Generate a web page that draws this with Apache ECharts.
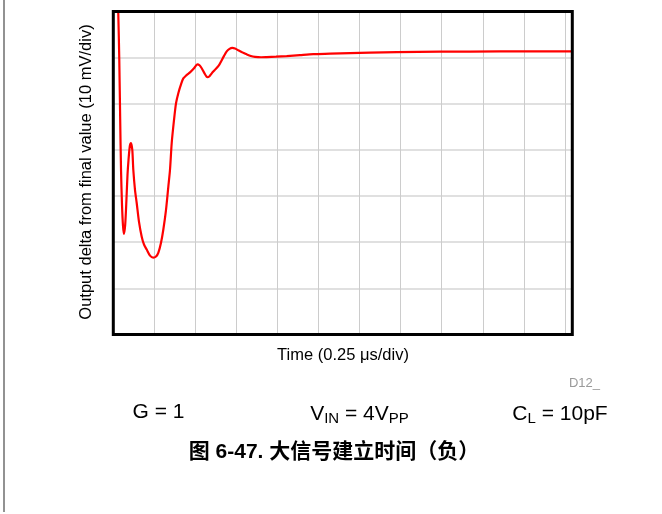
<!DOCTYPE html>
<html>
<head>
<meta charset="utf-8">
<script src="https://cdn.jsdelivr.net/npm/echarts@6/dist/echarts.min.js"></script>
<style>
  html, body { margin: 0; padding: 0; background: #fff; }
  #chart { width: 662px; height: 514px; }
</style>
</head>
<body>
<div id="chart"></div>
<script>
// time in us, output delta in mV (10 mV/div, 0.25 us/div)
const timeUs = [
  0.026, 0.030, 0.0365, 0.042, 0.047, 0.053, 0.059, 0.065, 0.0725, 0.080,
  0.0865, 0.0926, 0.1005, 0.1078, 0.1157, 0.1218, 0.1322, 0.1425, 0.1565, 0.173,
  0.187, 0.2034, 0.2235, 0.2436, 0.260, 0.274, 0.2905, 0.3045, 0.321, 0.335,
  0.3453, 0.3557, 0.3697, 0.3818, 0.3959, 0.4123, 0.4263, 0.4458, 0.4671, 0.4915,
  0.5116, 0.525, 0.5384, 0.5554, 0.5725, 0.5859, 0.5993, 0.6163, 0.6334, 0.6468,
  0.6602, 0.6742, 0.6906, 0.7077, 0.7247, 0.7412, 0.7613, 0.7868, 0.8124, 0.8374,
  0.863, 0.8995, 0.9342, 0.9909, 1.056, 1.137, 1.218, 1.32, 1.4415, 1.563,
  1.726, 1.99, 2.355, 2.795
];
const deltaMv = [
  12.4, 10.0, -0.6, -13.5, -24.3, -31.9, -36.4, -38.2, -36.2, -30.8,
  -25.4, -22.2, -19.2, -18.5, -20.0, -24.3, -28.7, -31.5, -35.6, -38.8,
  -40.5, -41.6, -42.9, -43.35, -43.1, -42.3, -40.1, -37.3, -33.0, -28.0,
  -24.3, -18.5, -13.5, -9.9, -7.7, -5.8, -4.5, -3.8, -3.2, -2.3,
  -1.45, -1.66, -2.3, -3.4, -4.25, -4.04, -3.4, -2.74, -2.1, -1.45,
  -0.58, 0.39, 1.36, 1.9, 2.12, 1.97, 1.58, 1.14, 0.71, 0.35,
  0.17, 0.09, 0.13, 0.22, 0.35, 0.56, 0.76, 0.86, 0.99, 1.1,
  1.21, 1.3, 1.34, 1.36
];

const FONT = '"Liberation Sans", Arial, "Noto Sans CJK SC", sans-serif';
const PLOT = { left: 113.3, top: 11.5, width: 459, height: 323 };

const chart = echarts.init(document.getElementById('chart'));

const subText = (x, text) => ({
  type: 'text', x, y: 414,
  style: {
    text,
    textAlign: 'center', textVerticalAlign: 'middle',
    rich: {
      m: { fontSize: 21, fontFamily: FONT, lineHeight: 26, color: '#000' },
      s: { fontSize: 15, fontFamily: FONT, lineHeight: 15, padding: [10, 0, 0, 0], color: '#000' },
    },
  },
});

chart.setOption({
  animation: false,
  grid: { ...PLOT, show: false },
  xAxis: {
    type: 'value', min: 0, max: 2.795, interval: 0.25,
    axisLine: { show: false }, axisTick: { show: false }, axisLabel: { show: false },
    splitLine: { lineStyle: { color: '#cccccc', width: 1 } },
  },
  yAxis: {
    type: 'value', min: -60, max: 10, interval: 10,
    axisLine: { show: false }, axisTick: { show: false }, axisLabel: { show: false },
    splitLine: { lineStyle: { color: '#d6d6d6', width: 1.5 } },
  },
  series: [
    {
      type: 'line',
      data: timeUs.map((t, i) => [t, deltaMv[i]]),
      showSymbol: false,
      smooth: 0.25,
      clip: true,
      lineStyle: { color: '#ff0000', width: 2.2 },
      z: 3,
    },
  ],
  graphic: [
    { type: 'line', shape: { x1: 4, y1: 0, x2: 4, y2: 512 }, style: { stroke: '#6e6e6e', lineWidth: 1.5 } },
    {
      type: 'rect', z: 100,
      shape: { x: PLOT.left, y: PLOT.top, width: PLOT.width, height: PLOT.height },
      style: { fill: 'none', stroke: '#000', lineWidth: 3 },
    },
    {
      type: 'text', x: 343, y: 355,
      style: { text: 'Time (0.25 μs/div)', font: '16.5px ' + FONT, fill: '#000', textAlign: 'center', textVerticalAlign: 'middle' },
    },
    {
      type: 'text', x: 86, y: 172, rotation: Math.PI / 2,
      style: { text: 'Output delta from final value (10 mV/div)', font: '16.5px ' + FONT, fill: '#000', textAlign: 'center', textVerticalAlign: 'middle' },
    },
    {
      type: 'text', x: 600, y: 383,
      style: { text: 'D12_', font: '13px ' + FONT, fill: '#9a9a9a', textAlign: 'right', textVerticalAlign: 'middle' },
    },
    {
      type: 'text', x: 158.5, y: 412,
      style: { text: 'G = 1', font: '21px ' + FONT, fill: '#000', textAlign: 'center', textVerticalAlign: 'middle' },
    },
    subText(359.5, '{m|V}{s|IN}{m| = 4V}{s|PP}'),
    subText(560, '{m|C}{s|L}{m| = 10pF}'),
    {
      type: 'text', x: 334, y: 452,
      style: { text: '图 6-47. 大信号建立时间（负）', font: 'bold 21px ' + FONT, fill: '#000', textAlign: 'center', textVerticalAlign: 'middle' },
    },
  ],
});
</script>
</body>
</html>
